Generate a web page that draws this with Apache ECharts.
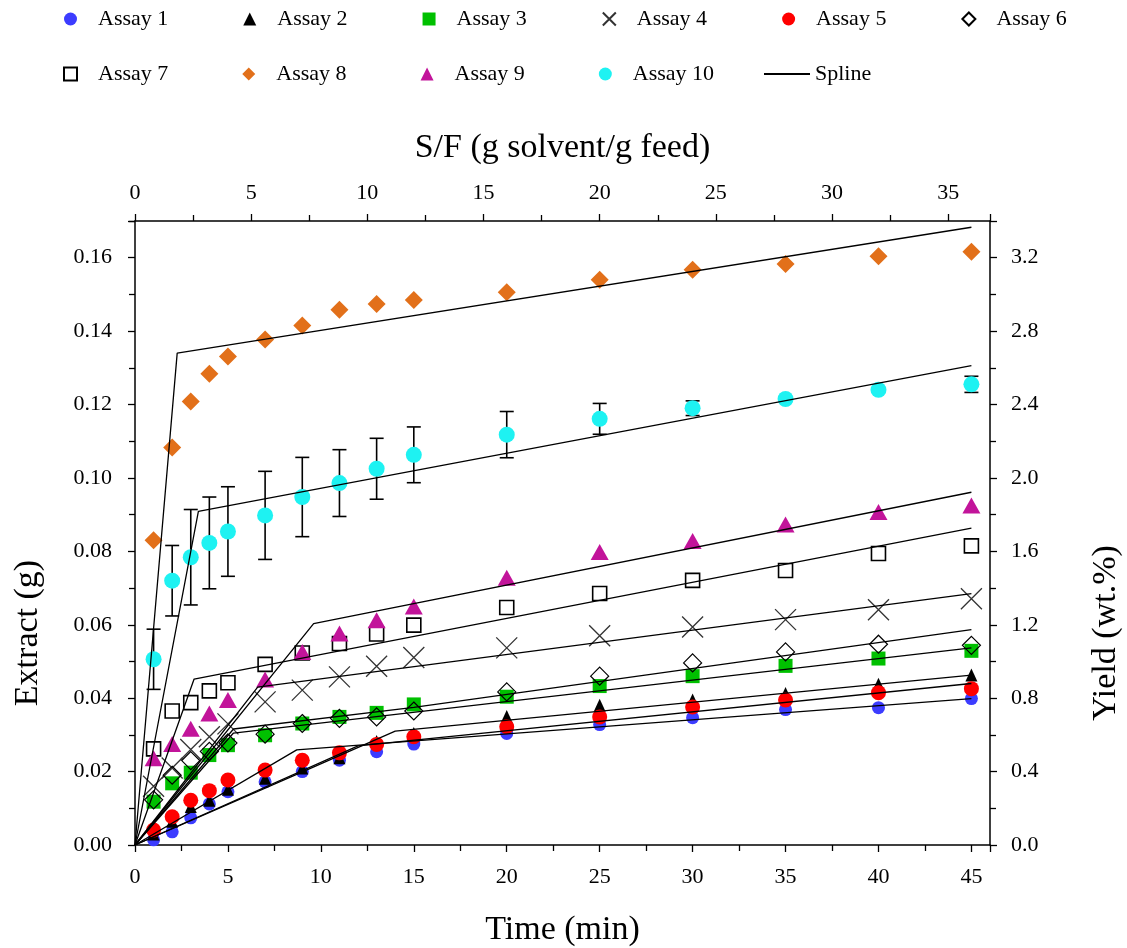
<!DOCTYPE html>
<html>
<head>
<meta charset="utf-8">
<script src="https://cdn.jsdelivr.net/npm/echarts@6/dist/echarts.min.js"></script>
<style>
html,body{margin:0;padding:0;background:#fff;}
#chart{width:1127px;height:948px;}
</style>
</head>
<body>
<div id="chart"></div>
<script>
// ---------------- data ----------------
const times = [1, 2, 3, 4, 5, 7, 9, 11, 13, 15, 20, 25, 30, 35, 40, 45];

const assay1  = [0.0014, 0.0036, 0.0074, 0.0112, 0.0145, 0.0172, 0.0200, 0.0231, 0.0254, 0.0275, 0.0304, 0.0328, 0.0347, 0.0369, 0.0374, 0.0399];
const assay2  = [0.0030, 0.0065, 0.0105, 0.0122, 0.0152, 0.0182, 0.0210, 0.0238, 0.0282, 0.0304, 0.0350, 0.0381, 0.0395, 0.0413, 0.0438, 0.0463];
const assay3  = [0.0118, 0.0168, 0.0197, 0.0245, 0.0272, 0.0299, 0.0331, 0.0349, 0.0360, 0.0383, 0.0404, 0.0433, 0.0460, 0.0488, 0.0508, 0.0529];
const assay4  = [0.0160, 0.0210, 0.0260, 0.0295, 0.0330, 0.0390, 0.0422, 0.0458, 0.0487, 0.0511, 0.0537, 0.0570, 0.0594, 0.0614, 0.0641, 0.0671];
const assay5  = [0.0041, 0.0077, 0.0122, 0.0148, 0.0177, 0.0204, 0.0231, 0.0251, 0.0274, 0.0295, 0.0322, 0.0349, 0.0376, 0.0395, 0.0415, 0.0426];
const assay6  = [0.0123, 0.0190, 0.0230, 0.0255, 0.0278, 0.0302, 0.0331, 0.0345, 0.0349, 0.0365, 0.0417, 0.0460, 0.0496, 0.0526, 0.0547, 0.0544];
const assay7  = [0.0262, 0.0365, 0.0388, 0.0420, 0.0442, 0.0492, 0.0523, 0.0549, 0.0575, 0.0599, 0.0647, 0.0685, 0.0721, 0.0748, 0.0794, 0.0815];
const assay8  = [0.0830, 0.1083, 0.1208, 0.1284, 0.1331, 0.1377, 0.1415, 0.1458, 0.1474, 0.1485, 0.1506, 0.1540, 0.1567, 0.1583, 0.1604, 0.1616];
const assay9  = [0.0236, 0.0275, 0.0317, 0.0358, 0.0395, 0.0451, 0.0526, 0.0576, 0.0612, 0.0650, 0.0728, 0.0798, 0.0828, 0.0873, 0.0907, 0.0925];
const assay10 = [0.0506, 0.0720, 0.0784, 0.0823, 0.0854, 0.0898, 0.0948, 0.0986, 0.1025, 0.1063, 0.1118, 0.1161, 0.1190, 0.1215, 0.1240, 0.1255];
const assay10Err = [0.0082, 0.0096, 0.0130, 0.0125, 0.0122, 0.0120, 0.0108, 0.0091, 0.0083, 0.0076, 0.0063, 0.0042, 0.0020, 0, 0, 0.0022];

// spline knots [time, extract]
const spline1  = [[0, 0], [8.7, 0.0259], [45, 0.0399]];
const spline2  = [[0, 0], [9.5, 0.0210], [14, 0.0310], [45, 0.0463]];
const spline3  = [[0, 0], [5.3, 0.0305], [45, 0.0537]];
const spline4  = [[0, 0], [6.6, 0.0430], [45, 0.0685]];
const spline5  = [[0, 0], [12, 0.0270], [45, 0.0440]];
const spline6  = [[0, 0], [5.3, 0.0316], [15, 0.0375], [45, 0.0587]];
const spline7  = [[0, 0], [3.18, 0.0452], [45, 0.0863]];
const spline8  = [[0, 0], [2.27, 0.1340], [45, 0.1683]];
const spline9  = [[0, 0], [9.61, 0.0603], [45, 0.0961]];
const spline10 = [[0, 0], [3.41, 0.0909], [45, 0.1306]];

const timeTickLabels  = [0, 5, 10, 15, 20, 25, 30, 35, 40, 45];
const sfTickLabels    = [0, 5, 10, 15, 20, 25, 30, 35];
const extractTickLabels = ['0.00','0.02','0.04','0.06','0.08','0.10','0.12','0.14','0.16'];
const yieldTickLabels = ['0.0','0.4','0.8','1.2','1.6','2.0','2.4','2.8','3.2'];

const legendRow1 = ['Assay 1','Assay 2','Assay 3','Assay 4','Assay 5','Assay 6'];
const legendRow2 = ['Assay 7','Assay 8','Assay 9','Assay 10'];
const legendLine = ['Spline'];

// ---------------- options ----------------
const FONT = "'Liberation Serif','Times New Roman',serif";
const pair = arr => times.map((t, i) => [t, arr[i]]);
const X_PATH = 'path://M0,0L10,10M10,0L0,10';

function scatter(name, data, symbol, size, style, z) {
  return {
    name, type: 'scatter', data: pair(data), symbol, symbolSize: size,
    itemStyle: Object.assign({ opacity: 1 }, style), z: z || 2, xAxisIndex: 0, yAxisIndex: 0,
    emphasis: { disabled: true }
  };
}
function splineSeries(pts) {
  return {
    name: 'Spline', type: 'line', data: pts, symbol: 'none', z: 4,
    lineStyle: { color: '#000', width: 1.3 }, itemStyle: { color: '#000' },
    xAxisIndex: 0, yAxisIndex: 0, silent: true, animation: false
  };
}

const axisCommon = {
  type: 'value',
  axisLine: { show: true, onZero: false, lineStyle: { color: '#000', width: 1.5 } },
  axisTick: { show: true, inside: false, length: 7, lineStyle: { color: '#000', width: 1.3 } },
  minorTick: { show: true, splitNumber: 2, length: 6, lineStyle: { color: '#000', width: 1.3 } },
  splitLine: { show: false },
  axisLabel: { color: '#000', fontFamily: FONT, fontSize: 22 },
  nameTextStyle: { color: '#000', fontFamily: FONT, fontSize: 34 }
};

const legendText = { fontFamily: FONT, fontSize: 22, color: '#000', padding: [0, 0, 0, 16] };

const option = {
  backgroundColor: '#fff',
  animation: false,
  textStyle: { fontFamily: FONT },
  grid: { left: 135, right: 137, top: 221, bottom: 103, containLabel: false, outerBoundsMode: 'none' },
  legend: [
    { data: legendRow1, left: 59, top: 3, itemWidth: 13, itemHeight: 13, itemGap: 75,
      textStyle: legendText, selectedMode: false },
    { data: legendRow2, left: 58, top: 58, itemWidth: 13, itemHeight: 13, itemGap: 74,
      textStyle: legendText, selectedMode: false },
    { data: [{ name: legendLine[0], icon: 'rect' }], left: 759, top: 58, itemWidth: 46, itemHeight: 2,
      textStyle: { fontFamily: FONT, fontSize: 22, color: '#000' }, selectedMode: false }
  ],
  xAxis: [
    Object.assign({}, axisCommon, {
      position: 'bottom', min: 0, max: 46, interval: 5,
      name: 'Time (min)', nameLocation: 'middle', nameGap: 68,
      axisLabel: Object.assign({}, axisCommon.axisLabel, { margin: 21,
        formatter: v => timeTickLabels.includes(v) ? String(v) : '' })
    }),
    Object.assign({}, axisCommon, {
      position: 'top', min: 0, max: 36.8, interval: 5,
      name: 'S/F (g solvent/g feed)', nameLocation: 'middle', nameGap: 56,
      axisLabel: Object.assign({}, axisCommon.axisLabel, { margin: 17,
        formatter: v => sfTickLabels.includes(v) ? String(v) : '' })
    })
  ],
  yAxis: [
    Object.assign({}, axisCommon, {
      position: 'left', min: 0, max: 0.17, interval: 0.02,
      name: 'Extract (g)', nameLocation: 'middle', nameGap: 90, nameRotate: 90,
      nameTextStyle: Object.assign({}, axisCommon.nameTextStyle, { padding: [0, 200, 0, 0] }),
      axisLabel: Object.assign({}, axisCommon.axisLabel, { margin: 23,
        formatter: v => { const s = v.toFixed(2); return extractTickLabels.includes(s) && Math.abs(v - 0.17) > 1e-6 ? s : ''; } })
    }),
    Object.assign({}, axisCommon, {
      position: 'right', min: 0, max: 3.4, interval: 0.4,
      name: 'Yield (wt.%)', nameLocation: 'middle', nameGap: 99, nameRotate: 90,
      nameTextStyle: Object.assign({}, axisCommon.nameTextStyle, { padding: [0, 200, 0, 0] }),
      axisLabel: Object.assign({}, axisCommon.axisLabel, { margin: 21,
        formatter: v => { const s = v.toFixed(1); return yieldTickLabels.includes(s) && Math.abs(v - 3.4) > 1e-6 ? s : ''; } })
    })
  ],
  series: [
    scatter('Assay 1', assay1, 'circle', 13, { color: '#3c3cff' }),
    scatter('Assay 2', assay2, 'triangle', [12, 13], { color: '#000' }),
    scatter('Assay 3', assay3, 'rect', 14, { color: '#00c000' }),
    scatter('Assay 4', assay4, X_PATH, 21, { color: 'rgba(0,0,0,0)', borderColor: '#333', borderWidth: 1.3 }),
    scatter('Assay 5', assay5, 'circle', 15, { color: '#ff0000' }),
    scatter('Assay 6', assay6, 'diamond', 18, { color: 'rgba(255,255,255,0)', borderColor: '#000', borderWidth: 1.2 }),
    scatter('Assay 7', assay7, 'rect', 14, { color: 'rgba(255,255,255,0)', borderColor: '#000', borderWidth: 1.6 }),
    scatter('Assay 8', assay8, 'diamond', 18, { color: '#e2701a' }),
    scatter('Assay 9', assay9, 'triangle', [18, 16], { color: '#c2149a' }),
    {
      name: 'Assay 10 error', type: 'custom', xAxisIndex: 0, yAxisIndex: 0, z: 1,
      data: times.map((t, i) => [t, assay10[i], assay10Err[i]]),
      encode: { x: 0, y: 1 },
      renderItem: function (params, api) {
        const x = api.value(0), y = api.value(1), e = api.value(2);
        if (!e) return null;
        const top = api.coord([x, y + e]);
        const bot = api.coord([x, y - e]);
        const h = 7;
        const st = { stroke: '#000', lineWidth: 1.6 };
        return { type: 'group', children: [
          { type: 'line', shape: { x1: top[0], y1: top[1], x2: bot[0], y2: bot[1] }, style: st },
          { type: 'line', shape: { x1: top[0] - h, y1: top[1], x2: top[0] + h, y2: top[1] }, style: st },
          { type: 'line', shape: { x1: bot[0] - h, y1: bot[1], x2: bot[0] + h, y2: bot[1] }, style: st }
        ]};
      }
    },
    scatter('Assay 10', assay10, 'circle', 16, { color: '#1ef2f2' }, 3),
    splineSeries(spline1), splineSeries(spline2), splineSeries(spline3), splineSeries(spline4),
    splineSeries(spline5), splineSeries(spline6), splineSeries(spline7), splineSeries(spline8),
    splineSeries(spline9), splineSeries(spline10)
  ]
};

const chart = echarts.init(document.getElementById('chart'), null, { renderer: 'canvas' });
chart.setOption(option);
</script>
</body>
</html>
